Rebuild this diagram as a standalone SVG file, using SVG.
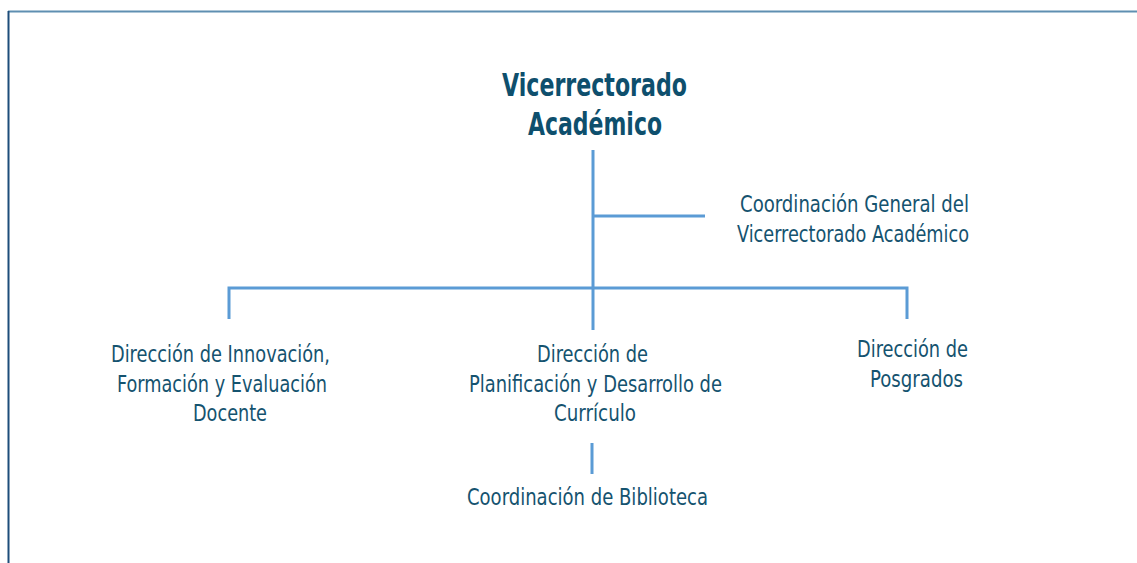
<svg xmlns="http://www.w3.org/2000/svg" width="1137" height="563" viewBox="0 0 1137 563">
<style>
.t{font-family:"DejaVu Sans Condensed","DejaVu Sans","Liberation Sans Narrow",sans-serif;font-stretch:condensed;font-size:23px;fill:#15536f;text-anchor:middle}
.h{font-family:"DejaVu Sans Condensed","DejaVu Sans",sans-serif;font-stretch:condensed;font-weight:bold;font-size:32px;fill:#0e4f6d;text-anchor:middle}
.c{stroke:#5b9bd5;stroke-width:3;fill:none}
</style>
<rect width="1137" height="563" fill="#fff"/>
<line x1="8" y1="11.5" x2="1137" y2="11.5" stroke="#5f8fb1" stroke-width="2"/>
<line x1="8.5" y1="11" x2="8.5" y2="563" stroke="#1d4d7a" stroke-width="2"/>
<g id="connectors">
<path class="c" d="M593 150V289M593 216H705M229 319V288H907V319M593 288V330M592 443V474"/>
</g>
<g id="vicerrectorado">
<text class="h" x="594.5" y="96" textLength="185" lengthAdjust="spacingAndGlyphs">Vicerrectorado</text>
<text class="h" x="595" y="135" textLength="134" lengthAdjust="spacingAndGlyphs">Académico</text>
</g>
<g id="coordinacion-general">
<text class="t" x="854.5" y="212" textLength="229" lengthAdjust="spacingAndGlyphs">Coordinación General del</text>
<text class="t" x="853" y="242" textLength="232" lengthAdjust="spacingAndGlyphs">Vicerrectorado Académico</text>
</g>
<g id="innovacion">
<text class="t" x="220.5" y="362" textLength="219" lengthAdjust="spacingAndGlyphs">Dirección de Innovación,</text>
<text class="t" x="222" y="392" textLength="210" lengthAdjust="spacingAndGlyphs">Formación y Evaluación</text>
<text class="t" x="230" y="421" textLength="74" lengthAdjust="spacingAndGlyphs">Docente</text>
</g>
<g id="planificacion">
<text class="t" x="592.5" y="362" textLength="111" lengthAdjust="spacingAndGlyphs">Dirección de</text>
<text class="t" x="595.5" y="392" textLength="253" lengthAdjust="spacingAndGlyphs">Planificación y Desarrollo de</text>
<text class="t" x="595" y="421" textLength="82" lengthAdjust="spacingAndGlyphs">Currículo</text>
</g>
<g id="posgrados">
<text class="t" x="912.5" y="357" textLength="111" lengthAdjust="spacingAndGlyphs">Dirección de</text>
<text class="t" x="916.5" y="387" textLength="93" lengthAdjust="spacingAndGlyphs">Posgrados</text>
</g>
<g id="biblioteca">
<text class="t" x="587.5" y="505" textLength="241" lengthAdjust="spacingAndGlyphs">Coordinación de Biblioteca</text>
</g>
</svg>
